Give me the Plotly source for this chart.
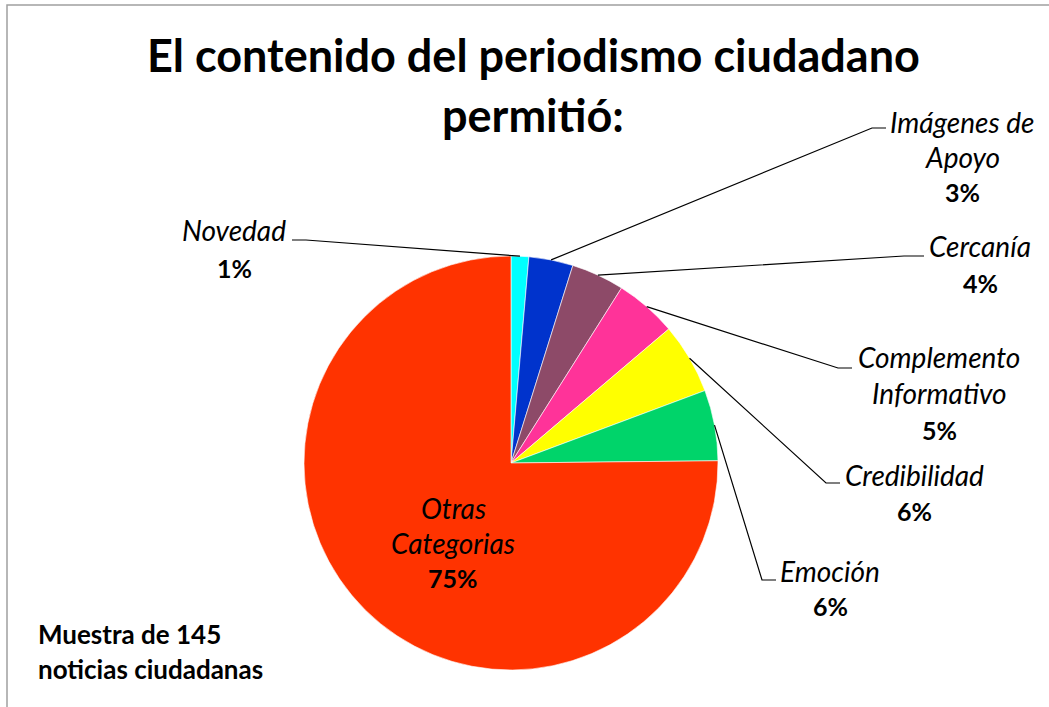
import math
import plotly.graph_objects as go

# ---- data ----
categories = ["Novedad", "Imágenes de Apoyo", "Cercanía", "Complemento Informativo",
              "Credibilidad", "Emoción", "Otras Categorias"]
counts = [2, 5, 6, 7, 8, 8, 109]
colors = ["#00FFFF", "#0033CC", "#8D4A68", "#FF3399", "#FFFF00", "#00D46A", "#FF3300"]
label_lines = [["Novedad"], ["Imágenes de", "Apoyo"], ["Cercanía"],
               ["Complemento", "Informativo"], ["Credibilidad"], ["Emoción"],
               ["Otras", "Categorias"]]
title_lines = ["El contenido del periodismo ciudadano", "permitió:"]
note_lines = ["Muestra de 145", "noticias ciudadanas"]

W, H = 1049, 707
FONT = "Lato"

# pie geometry (pixels)
CX, CY, R = 511, 463, 207

def px(x):
    return x / W

def py(y):
    return 1 - y / H

# label layout: (center x, first line y, line gap, leader elbow start, elbow end)
label_pos = [
    (234, 230, 38, (292, 240), (306, 240)),
    (962, 122, 35, (886, 128), (872, 128)),
    (980, 246, 37, (924, 256), (904, 256)),
    (939, 357, 36.5, (852, 368), (838, 368)),
    (914, 475, 36, (840, 483), (826, 483)),
    (830, 571, 35, (776, 580), (762, 580)),
    (453, 508, 35, None, None),
]

total = sum(counts)
fig = go.Figure(go.Pie(
    labels=categories, values=counts, sort=False, direction="clockwise", rotation=0,
    marker=dict(colors=colors, line=dict(color="white", width=0.6)),
    textinfo="none", hoverinfo="label+percent", showlegend=False,
    domain=dict(x=[px(CX - R), px(CX + R)], y=[py(CY + R), py(CY - R)]),
))

annotations = []
shapes = []

cum = 0
for i, (cat, v) in enumerate(zip(categories, counts)):
    mid = (cum + v / 2) / total
    cum += v
    ang = 2 * math.pi * mid
    tipx = CX + R * math.sin(ang)
    tipy = CY - R * math.cos(ang)
    cx, y0, gap, e1, e2 = label_pos[i]
    lines = label_lines[i]
    pct = f"{round(100 * v / total)}%"
    for k, t in enumerate(lines):
        annotations.append(dict(x=px(cx), y=py(y0 + k * gap), xref="paper", yref="paper",
                                text=f"<i>{t}</i>", showarrow=False, xanchor="center",
                                yanchor="middle", font=dict(family=FONT, size=28, color="black")))
    annotations.append(dict(x=px(cx), y=py(y0 + len(lines) * gap), xref="paper", yref="paper",
                            text=f"<b>{pct}</b>", showarrow=False, xanchor="center",
                            yanchor="middle", font=dict(family=FONT, size=25, color="black")))
    if e1 is not None:
        path = (f"M {px(e1[0])},{py(e1[1])} L {px(e2[0])},{py(e2[1])} "
                f"L {px(tipx)},{py(tipy)}")
        shapes.append(dict(type="path", path=path, xref="paper", yref="paper",
                           line=dict(color="black", width=1.2)))

# title
for k, t in enumerate(title_lines):
    annotations.append(dict(x=px(533), y=py(55 + k * 60), xref="paper", yref="paper",
                            text=f"<b>{t}</b>", showarrow=False, xanchor="center",
                            yanchor="middle", font=dict(family=FONT, size=45, color="black")))

# note
for k, t in enumerate(note_lines):
    annotations.append(dict(x=px(36), y=py(634 + k * 35), xref="paper", yref="paper",
                            text=f"<b>{t}</b>", showarrow=False, xanchor="left",
                            yanchor="middle", font=dict(family=FONT, size=26, color="black")))

# chart area border (partially visible)
shapes.append(dict(type="rect", xref="paper", yref="paper",
                   x0=px(7), x1=1.05, y0=-0.05, y1=py(5),
                   line=dict(color="#A0A0A0", width=1.5), fillcolor="rgba(0,0,0,0)"))

fig.update_layout(
    width=W, height=H, margin=dict(l=0, r=0, t=0, b=0),
    paper_bgcolor="white", plot_bgcolor="white",
    annotations=annotations, shapes=shapes,
)

fig.write_html("out.html", config={"displayModeBar": False},
               post_script="document.body.style.margin='0';")
